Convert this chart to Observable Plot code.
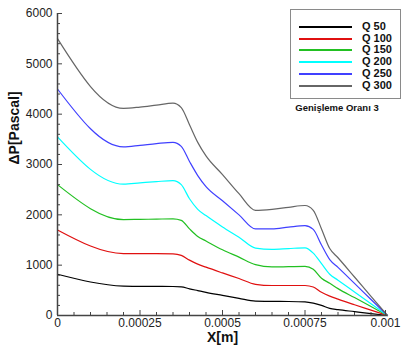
<!DOCTYPE html>
<html>
<head>
<meta charset="utf-8">
<script src="https://cdn.jsdelivr.net/npm/d3@7"></script>
<script src="https://cdn.jsdelivr.net/npm/@observablehq/plot@0.6"></script>
<style>
  html, body { margin: 0; padding: 0; background: #fff; }
  #wrap { position: relative; width: 401px; height: 353px; font-family: "Liberation Sans", Arial, sans-serif; }
  #legend { position: absolute; left: 290px; top: 9px; width: 111px; height: 90px; border: 1px solid #8a8a8a; background: #fff; box-sizing: border-box; }
  .row { position: absolute; left: 0; height: 12px; }
  .sw { position: absolute; left: 8px; width: 53px; top: 6px; height: 2px; }
  .lb { position: absolute; left: 71px; top: 0; font-size: 11px; font-weight: bold; line-height: 12px; color: #111; white-space: nowrap; }
  #note { position: absolute; left: 287px; width: 100px; top: 102px; text-align: center; font-size: 9.5px; font-weight: bold; color: #111; white-space: nowrap; }
</style>
</head>
<body>
<div id="wrap"></div>
<script>
// Data
const xs = [0, 0.0002, 0.00025, 0.0003, 0.00035, 0.000375, 0.0004, 0.000425, 0.00045, 0.0005, 0.00055, 0.0006, 0.00065, 0.0007, 0.00075, 0.000775, 0.0008, 0.000825, 0.00085, 0.0009, 0.00095, 0.001];
const q50  = [820, 585, 580, 578, 576, 570, 530, 495, 460, 400, 340, 285, 280, 278, 270, 245, 200, 140, 115, 77, 39, 0];
const q100 = [1700, 1230, 1228, 1228, 1225, 1195, 1100, 1020, 960, 846, 735, 620, 596, 596, 596, 565, 460, 385, 325, 214, 107, 0];
const q150 = [2600, 1905, 1910, 1915, 1920, 1890, 1720, 1570, 1480, 1305, 1160, 1010, 965, 970, 975, 920, 740, 640, 534, 356, 178, 0];
const q200 = [3550, 2610, 2635, 2660, 2680, 2600, 2320, 2110, 1985, 1760, 1555, 1340, 1315, 1330, 1345, 1240, 1030, 820, 702, 468, 234, 0];
const q250 = [4500, 3350, 3380, 3415, 3440, 3360, 3060, 2780, 2560, 2280, 2000, 1720, 1720, 1755, 1785, 1710, 1400, 1110, 955, 637, 318, 0];
const q300 = [5500, 4115, 4141, 4180, 4218, 4130, 3790, 3440, 3170, 2800, 2420, 2090, 2110, 2150, 2185, 2090, 1720, 1330, 1147, 765, 382, 0];

const seriesNames = ["Q 50", "Q 100", "Q 150", "Q 200", "Q 250", "Q 300"];
const seriesValues = [q50, q100, q150, q200, q250, q300];
const seriesColors = ["#000000", "#e01010", "#22c022", "#00ffff", "#4040ff", "#666666"];

const xMajor = [0, 0.00025, 0.0005, 0.00075, 0.001];
const xTickLabels = ["0", "0.00025", "0.0005", "0.00075", "0.001"];
const yMajor = [0, 1000, 2000, 3000, 4000, 5000, 6000];
const yTickLabels = ["0", "1000", "2000", "3000", "4000", "5000", "6000"];
const xMinor = d3.range(0, 21).map(i => i * 0.00005).filter((v, i) => i % 5 !== 0);
const yMinor = d3.range(0, 31).map(i => i * 200).filter(v => v % 1000 !== 0);

const xTitle = "X[m]";
const yTitle = "ΔP[Pascal]";
const legendTitle = "Genişleme Oranı 3";

const data = [];
seriesNames.forEach((name, si) => {
  xs.forEach((x, i) => data.push({series: name, x, y: seriesValues[si][i]}));
});

const axisColor = "#444";
const xFmt = d => xTickLabels[xMajor.indexOf(d)];
const chart = Plot.plot({
  width: 401,
  height: 353,
  marginLeft: 57,
  marginRight: 14,
  marginTop: 13,
  marginBottom: 38,
  style: {fontFamily: "'Liberation Sans', Arial, sans-serif", background: "#fff", color: "#222"},
  x: {domain: [0, 0.001]},
  y: {domain: [0, 6000]},
  color: {domain: seriesNames, range: seriesColors},
  marks: [
    Plot.line(data, {x: "x", y: "y", stroke: "series", z: "series", curve: "monotone-x", strokeWidth: 1.2}),
    Plot.axisY({ticks: yMinor, tickSize: -3, text: null, label: null, stroke: axisColor}),
    Plot.axisY({ticks: yMajor, tickSize: -5, tickPadding: 10, tickFormat: d => yTickLabels[yMajor.indexOf(d)], fontSize: 12, label: null, stroke: axisColor}),
    Plot.axisX({ticks: xMinor, tickSize: -3, text: null, label: null, stroke: axisColor}),
    Plot.axisX({ticks: xMajor.slice(0, 4), tickSize: -5, tickPadding: 8, tickFormat: xFmt, fontSize: 12, label: null, stroke: axisColor}),
    Plot.axisX({ticks: xMajor.slice(4), tickSize: -5, tickPadding: 8, tickFormat: xFmt, fontSize: 12, label: null, stroke: axisColor, dx: -2}),
    Plot.ruleX([0], {stroke: axisColor, strokeWidth: 1.5}),
    Plot.ruleY([0], {stroke: axisColor, strokeWidth: 1.5}),
    Plot.text([xTitle], {frameAnchor: "bottom", dy: 26, fontWeight: "bold", fontSize: 14, fill: "#111"}),
    Plot.text([yTitle], {frameAnchor: "left", rotate: -90, dx: -43, fontWeight: "bold", fontSize: 14, fill: "#111"})
  ]
});

const wrap = document.getElementById("wrap");
wrap.appendChild(chart);

const legend = document.createElement("div");
legend.id = "legend";
seriesNames.forEach((name, i) => {
  const row = document.createElement("div");
  row.className = "row";
  row.style.top = Math.round(10 + i * 11.7) + "px";
  row.style.width = "108px";
  const sw = document.createElement("div");
  sw.className = "sw";
  sw.style.backgroundColor = seriesColors[i];
  const lb = document.createElement("div");
  lb.className = "lb";
  lb.textContent = name;
  row.appendChild(sw);
  row.appendChild(lb);
  legend.appendChild(row);
});
wrap.appendChild(legend);

const note = document.createElement("div");
note.id = "note";
note.textContent = legendTitle;
wrap.appendChild(note);
</script>
</body>
</html>
